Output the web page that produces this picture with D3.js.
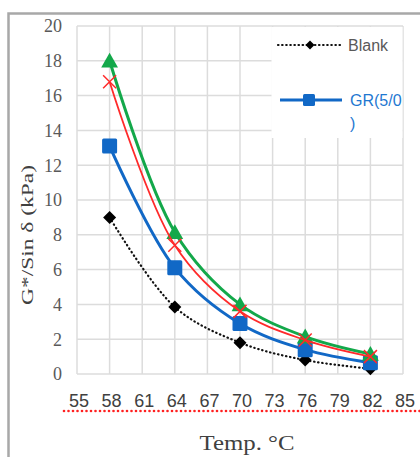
<!DOCTYPE html>
<html>
<head>
<meta charset="utf-8">
<script src="https://cdn.jsdelivr.net/npm/d3@7"></script>
<style>
  html, body { margin: 0; padding: 0; background: #fff; }
  svg { display: block; }
</style>
</head>
<body>
<svg id="chart" width="420" height="457"></svg>
<script>
// Test temperatures (°C) and G*/sin δ (kPa) for each binder
const temps = [58, 64, 70, 76, 82];
const blank = [9.0, 3.85, 1.8, 0.8, 0.3];
const gr50 = [13.1, 6.1, 2.9, 1.4, 0.65];
const series3 = [16.8, 7.4, 3.6, 1.95, 1.0];
const series4 = [18.0, 8.15, 4.0, 2.15, 1.15];

const xTicks = [55, 58, 61, 64, 67, 70, 73, 76, 79, 82, 85];
const yTicks = [0, 2, 4, 6, 8, 10, 12, 14, 16, 18, 20];

const svg = d3.select("#chart");

const x = d3.scaleLinear().domain([55, 85]).range([77, 403]);
const y = d3.scaleLinear().domain([0, 20]).range([374, 26]);

// outer frame (left and top edges only are in view)
svg.append("path")
  .attr("d", "M8.5,457 L8.5,13.5 L420,13.5")
  .attr("fill", "none").attr("stroke", "#a8a8a8").attr("stroke-width", 2.5);

// grid
const grid = svg.append("g").attr("stroke", "#dcdcdc").attr("stroke-width", 1.5);
grid.selectAll("line.h").data(yTicks).join("line").attr("class", "h")
  .attr("x1", x(55)).attr("x2", x(85))
  .attr("y1", d => y(d)).attr("y2", d => y(d));
grid.selectAll("line.v").data(xTicks).join("line").attr("class", "v")
  .attr("x1", d => x(d)).attr("x2", d => x(d))
  .attr("y1", y(20)).attr("y2", y(0));

// y tick labels
svg.append("g").selectAll("text").data(yTicks).join("text")
  .attr("x", 62).attr("y", d => y(d)).attr("dy", "0.35em")
  .attr("text-anchor", "end")
  .attr("font-family", "'Liberation Serif', serif").attr("font-size", 18)
  .attr("fill", "#595959")
  .text(d => d);

// x tick labels
svg.append("g").selectAll("text").data(xTicks).join("text")
  .attr("x", d => x(d) + 2).attr("y", 407)
  .attr("text-anchor", "middle")
  .attr("font-family", "'Liberation Sans', sans-serif").attr("font-size", 18)
  .attr("fill", "#404040")
  .text(d => d);

// dotted red underline beneath the tick labels
const dotX = d3.range(64, 420, 4.5);
svg.append("g").selectAll("circle").data(dotX).join("circle")
  .attr("cx", d => d).attr("cy", 411).attr("r", 1.3).attr("fill", "#ff2020");

// axis titles
svg.append("text")
  .attr("transform", "translate(33,235) rotate(-90)")
  .attr("text-anchor", "middle")
  .attr("font-family", "'Liberation Serif', serif").attr("font-size", 17)
  .attr("fill", "#404040")
  .attr("textLength", 140).attr("lengthAdjust", "spacingAndGlyphs")
  .text("G*/Sin δ (kPa)");

svg.append("text")
  .attr("x", 247).attr("y", 450)
  .attr("text-anchor", "middle")
  .attr("font-family", "'Liberation Serif', serif").attr("font-size", 21)
  .attr("fill", "#404040")
  .attr("textLength", 95).attr("lengthAdjust", "spacingAndGlyphs")
  .text("Temp. °C");

// series
const line = d3.line().x(d => x(d[0])).y(d => y(d[1])).curve(d3.curveCatmullRom);
const pts = vals => temps.map((t, i) => [t, vals[i]]);

const diamond = s => `M0,${-s}L${s},0L0,${s}L${-s},0Z`;
const triangle = s => `M0,${-s}L${s * 1.05},${s * 0.85}L${-s * 1.05},${s * 0.85}Z`;
const cross = s => `M${-s},${-s}L${s},${s}M${-s},${s}L${s},${-s}`;

const plot = svg.append("g");

function drawSeries(vals, color, width, dash, markerFn) {
  const g = plot.append("g");
  g.append("path").attr("d", line(pts(vals)))
    .attr("fill", "none").attr("stroke", color).attr("stroke-width", width)
    .attr("stroke-dasharray", dash).attr("stroke-linecap", dash ? "round" : "butt");
  g.selectAll("g.m").data(pts(vals)).join("g").attr("class", "m")
    .attr("transform", d => `translate(${x(d[0])},${y(d[1])})`)
    .each(function () { markerFn(d3.select(this)); });
}

drawSeries(blank, "#111", 2.2, "0.5,3.6", m =>
  m.append("path").attr("d", diamond(6.5)).attr("fill", "#000"));
drawSeries(gr50, "#1168c6", 3, null, m =>
  m.append("rect").attr("x", -7.5).attr("y", -7.5).attr("width", 15).attr("height", 15)
    .attr("rx", 1.5).attr("fill", "#1168c6"));
drawSeries(series4, "#13a84a", 3, null, m =>
  m.append("path").attr("d", triangle(8)).attr("fill", "#13a84a"));
drawSeries(series3, "#ff2a2a", 1.8, null, m =>
  m.append("path").attr("d", cross(6.5)).attr("stroke", "#ff2a2a").attr("stroke-width", 1.5).attr("fill", "none"));

// legend
const leg = svg.append("g");
leg.append("rect").attr("x", 271.5).attr("y", 27).attr("width", 131).attr("height", 111).attr("fill", "#fff");

leg.append("line").attr("x1", 278).attr("x2", 343).attr("y1", 45).attr("y2", 45)
  .attr("stroke", "#111").attr("stroke-width", 2.2).attr("stroke-dasharray", "0.5,3.6").attr("stroke-linecap", "round");
leg.append("path").attr("d", diamond(4.5)).attr("transform", "translate(310,45)").attr("fill", "#000");
leg.append("text").attr("x", 348).attr("y", 51)
  .attr("font-family", "'Liberation Sans', sans-serif").attr("font-size", 16).attr("fill", "#595959")
  .text("Blank");

leg.append("line").attr("x1", 280).attr("x2", 342).attr("y1", 100).attr("y2", 100)
  .attr("stroke", "#1168c6").attr("stroke-width", 3);
leg.append("rect").attr("x", 303).attr("y", 94).attr("width", 12).attr("height", 12).attr("rx", 1.5).attr("fill", "#1168c6");
const grText = leg.append("text")
  .attr("font-family", "'Liberation Sans', sans-serif").attr("font-size", 16).attr("fill", "#1f78d1");
grText.append("tspan").attr("x", 350).attr("y", 106).text("GR(5/0");
grText.append("tspan").attr("x", 350).attr("y", 129).text(")");
</script>
</body>
</html>
